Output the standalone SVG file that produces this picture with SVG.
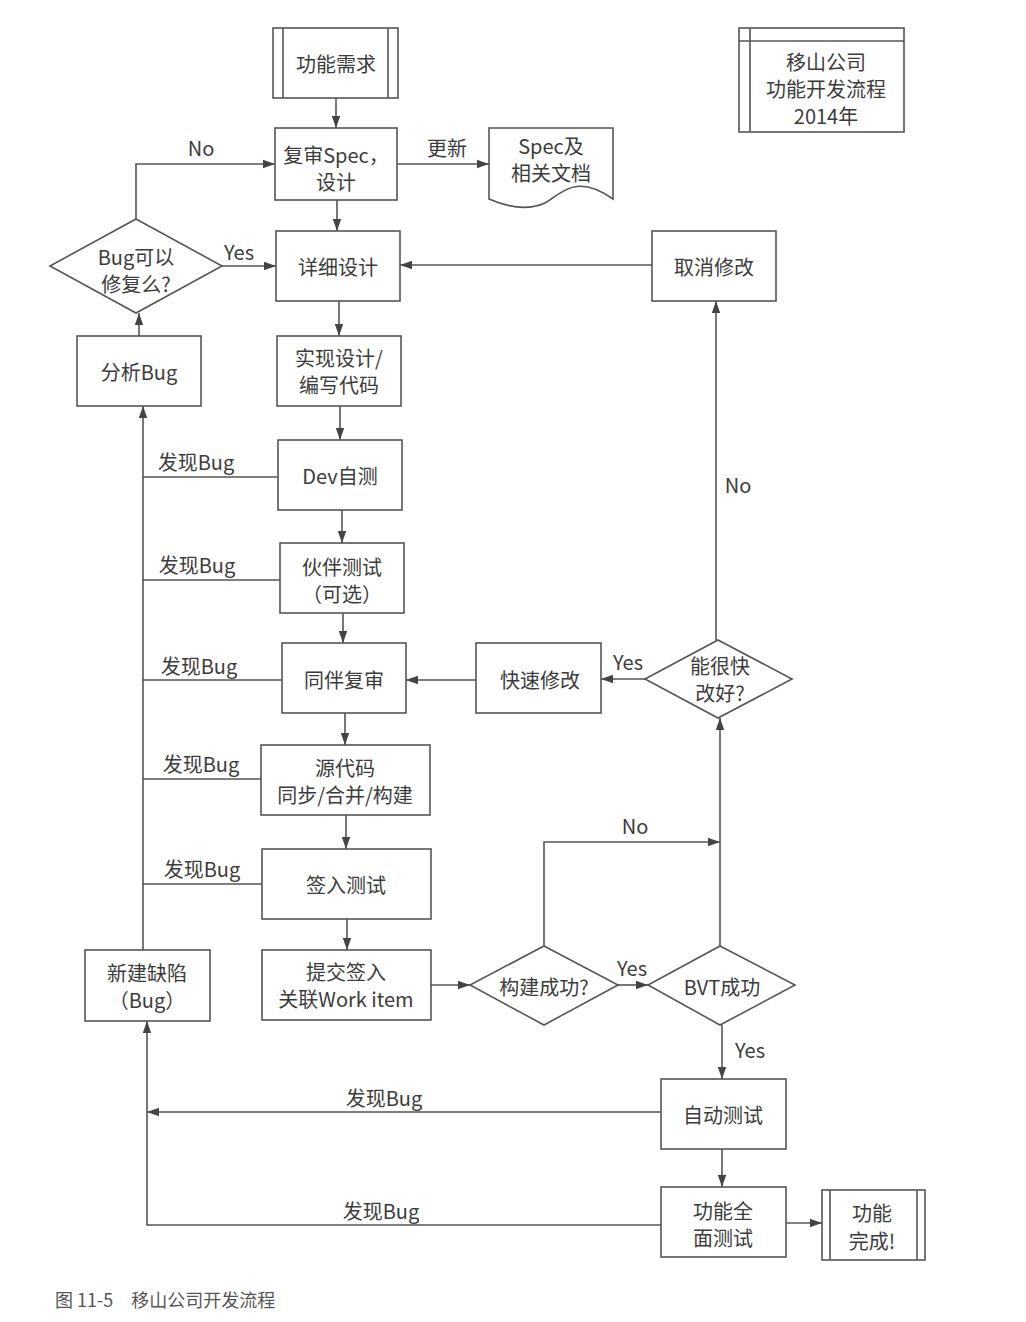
<svg xmlns="http://www.w3.org/2000/svg" width="1026" height="1322" viewBox="0 0 1026 1322">
<style>
text{font-family:"Noto Sans CJK SC","Noto Sans",sans-serif;font-size:20px;fill:#3c3c3c;text-anchor:middle;dominant-baseline:central}
.box{fill:#fff;stroke:#555;stroke-width:1.6}
.ln{fill:none;stroke:#555;stroke-width:1.6}
.cap{font-size:18px;text-anchor:start;fill:#555}
</style>
<defs>
<marker id="ar" viewBox="0 0 10 10" refX="10" refY="5" markerWidth="12" markerHeight="12" markerUnits="userSpaceOnUse" orient="auto">
<path d="M0,1.5 L10,5 L0,8.5 z" fill="#444"/>
</marker>
</defs>
<rect width="1026" height="1322" fill="#fff"/>

<g id="connectors">
<path class="ln" marker-end="url(#ar)" d="M336,98 V128"/>
<path class="ln" marker-end="url(#ar)" d="M337,200 V231"/>
<path class="ln" marker-end="url(#ar)" d="M339,301 V336"/>
<path class="ln" marker-end="url(#ar)" d="M340,406 V440"/>
<path class="ln" marker-end="url(#ar)" d="M342,510 V543"/>
<path class="ln" marker-end="url(#ar)" d="M343,613 V643"/>
<path class="ln" marker-end="url(#ar)" d="M345,713 V745"/>
<path class="ln" marker-end="url(#ar)" d="M346,815 V849"/>
<path class="ln" marker-end="url(#ar)" d="M347,919 V950"/>
<path class="ln" marker-end="url(#ar)" d="M397,164 H489"/>
<path class="ln" marker-end="url(#ar)" d="M136,219 V164 H275"/>
<path class="ln" marker-end="url(#ar)" d="M222,266 H276"/>
<path class="ln" marker-end="url(#ar)" d="M139,336 V313"/>
<path class="ln" marker-end="url(#ar)" d="M652,265 H400"/>
<path class="ln" marker-end="url(#ar)" d="M143,950 V406"/>
<path class="ln" d="M278,477 H143"/>
<path class="ln" d="M280,580 H143"/>
<path class="ln" d="M282,680 H143"/>
<path class="ln" d="M261,779 H143"/>
<path class="ln" d="M262,884 H143"/>
<path class="ln" marker-end="url(#ar)" d="M476,680 H406"/>
<path class="ln" marker-end="url(#ar)" d="M645,679 H601"/>
<path class="ln" marker-end="url(#ar)" d="M716,640 V301"/>
<path class="ln" marker-end="url(#ar)" d="M431,985 H470"/>
<path class="ln" marker-end="url(#ar)" d="M618,985 H648"/>
<path class="ln" marker-end="url(#ar)" d="M544,946 V842 H720"/>
<path class="ln" marker-end="url(#ar)" d="M720,946 V718"/>
<path class="ln" marker-end="url(#ar)" d="M722,1025 V1079"/>
<path class="ln" marker-end="url(#ar)" d="M722,1149 V1187"/>
<path class="ln" marker-end="url(#ar)" d="M661,1112 H147"/>
<path class="ln" marker-end="url(#ar)" d="M661,1225 H147 V1021"/>
<path class="ln" marker-end="url(#ar)" d="M786,1223 H822"/>
<text x="201" y="147">No</text>
<text x="447" y="147">更新</text>
<text x="239" y="251">Yes</text>
<text x="196" y="461">发现Bug</text>
<text x="197" y="564">发现Bug</text>
<text x="199" y="665">发现Bug</text>
<text x="201" y="763">发现Bug</text>
<text x="202" y="868">发现Bug</text>
<text x="628" y="661">Yes</text>
<text x="738" y="484">No</text>
<text x="635" y="825">No</text>
<text x="632" y="967">Yes</text>
<text x="750" y="1049">Yes</text>
<text x="384" y="1097">发现Bug</text>
<text x="381" y="1210">发现Bug</text>
</g>

<g id="n-req">
<rect class="box" x="273" y="28" width="125" height="70"/>
<path class="ln" d="M283,28 V98 M388,28 V98"/>
<text x="336" y="63">功能需求</text>
</g>
<g id="n-review">
<rect class="box" x="275" y="128" width="122" height="72"/>
<text x="336" y="154">复审Spec，</text>
<text x="336" y="181">设计</text>
</g>
<g id="n-doc">
<path class="box" d="M489,128 H613 V199 C575,172 560,195 545,203 C525,212 505,206 489,199 Z"/>
<text x="551" y="145">Spec及</text>
<text x="551" y="172">相关文档</text>
</g>
<g id="n-title">
<rect class="box" x="739" y="28" width="165" height="104"/>
<path class="ln" d="M750,28 V132 M739,41 H904"/>
<text x="826" y="61">移山公司</text>
<text x="826" y="88">功能开发流程</text>
<text x="826" y="115">2014年</text>
</g>
<g id="n-detail">
<rect class="box" x="276" y="231" width="124" height="70"/>
<text x="338" y="266">详细设计</text>
</g>
<g id="n-fixable">
<polygon class="box" points="136,219 222,266 136,313 50,266"/>
<text x="136" y="256">Bug可以</text>
<text x="136" y="283">修复么?</text>
</g>
<g id="n-cancel">
<rect class="box" x="652" y="231" width="124" height="70"/>
<text x="714" y="266">取消修改</text>
</g>
<g id="n-analyze">
<rect class="box" x="77" y="336" width="124" height="70"/>
<text x="139" y="371">分析Bug</text>
</g>
<g id="n-impl">
<rect class="box" x="277" y="336" width="124" height="70"/>
<text x="339" y="357">实现设计/</text>
<text x="339" y="384">编写代码</text>
</g>
<g id="n-dev">
<rect class="box" x="278" y="440" width="124" height="70"/>
<text x="340" y="475">Dev自测</text>
</g>
<g id="n-buddy">
<rect class="box" x="280" y="543" width="124" height="70"/>
<text x="342" y="566">伙伴测试</text>
<text x="342" y="593">（可选）</text>
</g>
<g id="n-peer">
<rect class="box" x="282" y="643" width="124" height="70"/>
<text x="344" y="679">同伴复审</text>
</g>
<g id="n-quickfix">
<rect class="box" x="476" y="643" width="125" height="70"/>
<text x="540" y="679">快速修改</text>
</g>
<g id="n-canfix">
<polygon class="box" points="718,640 792,679 718,718 645,679"/>
<text x="720" y="665">能很快</text>
<text x="720" y="692">改好?</text>
</g>
<g id="n-sync">
<rect class="box" x="261" y="745" width="169" height="70"/>
<text x="345" y="767">源代码</text>
<text x="345" y="794">同步/合并/构建</text>
</g>
<g id="n-checkin-test">
<rect class="box" x="262" y="849" width="169" height="70"/>
<text x="346" y="884">签入测试</text>
</g>
<g id="n-commit">
<rect class="box" x="262" y="950" width="169" height="70"/>
<text x="346" y="971">提交签入</text>
<text x="346" y="998">关联Work item</text>
</g>
<g id="n-buildok">
<polygon class="box" points="544,946 618,985 544,1025 470,985"/>
<text x="544" y="986">构建成功?</text>
</g>
<g id="n-bvt">
<polygon class="box" points="720,946 795,985 720,1025 648,985"/>
<text x="722" y="986">BVT成功</text>
</g>
<g id="n-newbug">
<rect class="box" x="85" y="950" width="125" height="71"/>
<text x="147" y="972">新建缺陷</text>
<text x="147" y="999">（Bug）</text>
</g>
<g id="n-autotest">
<rect class="box" x="661" y="1079" width="125" height="70"/>
<text x="723" y="1114">自动测试</text>
</g>
<g id="n-fulltest">
<rect class="box" x="661" y="1187" width="125" height="70"/>
<text x="723" y="1210">功能全</text>
<text x="723" y="1237">面测试</text>
</g>
<g id="n-done">
<rect class="box" x="822" y="1190" width="103" height="70"/>
<path class="ln" d="M830,1190 V1260 M917,1190 V1260"/>
<text x="872" y="1212">功能</text>
<text x="872" y="1240">完成!</text>
</g>
<text class="cap" x="55" y="1299">图 11-5　移山公司开发流程</text>
</svg>
